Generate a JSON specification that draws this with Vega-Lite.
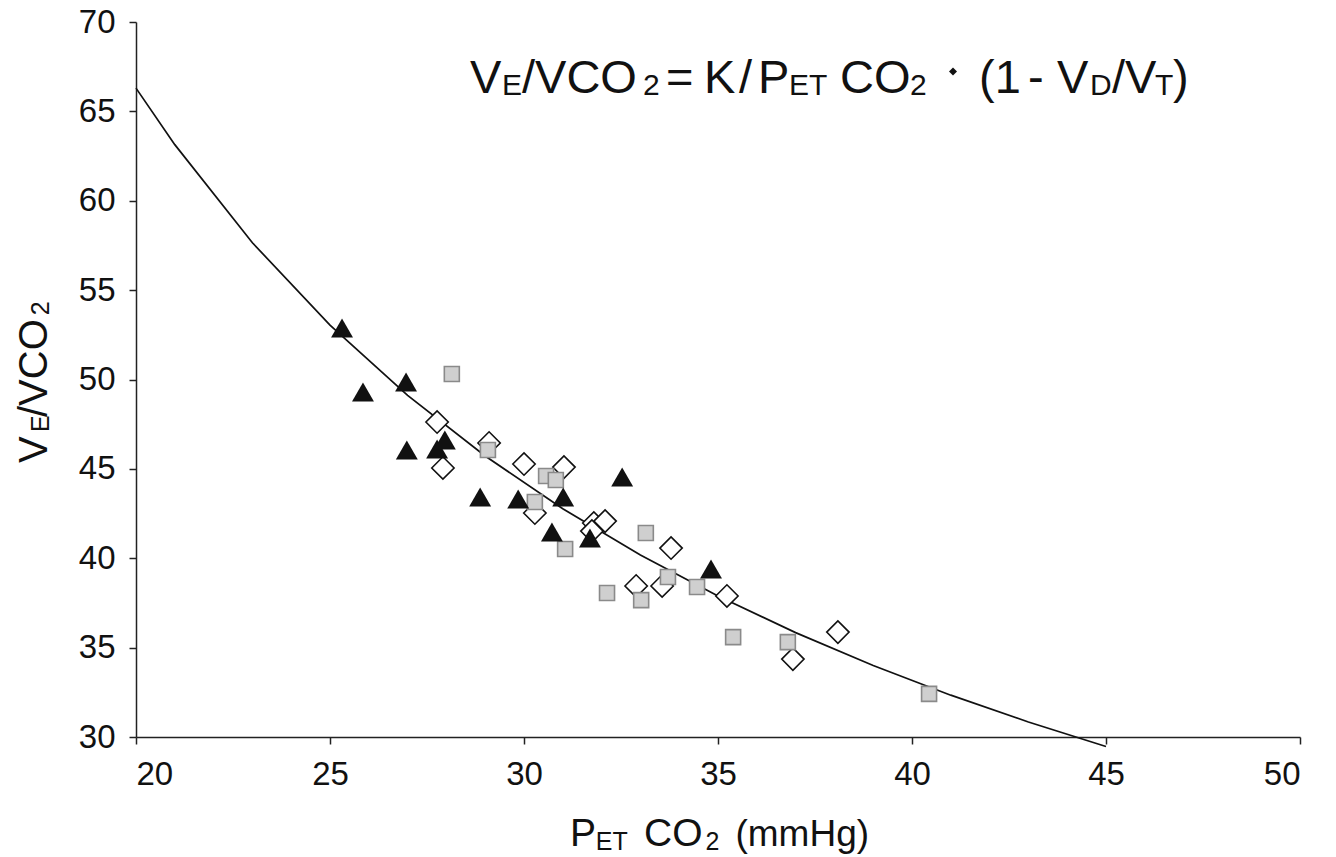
{
  "$schema": "https://vega.github.io/schema/vega-lite/v6.json",
  "width": 1164,
  "height": 715,
  "autosize": {"type": "none"},
  "padding": {"left": 136, "top": 22, "right": 36, "bottom": 120},
  "background": "white",
  "config": {
    "view": {"stroke": null},
    "axis": {
      "grid": false,
      "domainColor": "#222222",
      "domainWidth": 1.5,
      "tickColor": "#222222",
      "tickWidth": 1.5,
      "tickSize": 7,
      "labelFont": "Liberation Sans",
      "labelFontSize": 33,
      "labelColor": "#111111",
      "labelPadding": 14
    },
    "text": {"font": "Liberation Sans", "align": "left", "baseline": "alphabetic", "color": "#111111"}
  },
  "datasets": {
    "curve": [
      {"x": 20, "y": 66.3}, {"x": 21, "y": 63.14}, {"x": 23, "y": 57.65}, {"x": 25, "y": 53.04},
      {"x": 27, "y": 49.11}, {"x": 29, "y": 45.72}, {"x": 31, "y": 42.77}, {"x": 33, "y": 40.18},
      {"x": 35, "y": 37.89}, {"x": 37, "y": 35.84}, {"x": 39, "y": 34.0}, {"x": 41, "y": 32.34},
      {"x": 43, "y": 30.84}, {"x": 45, "y": 29.47}
    ],
    "pts": [
      {"g": "tri", "x": 25.31, "y": 52.88}, {"g": "tri", "x": 25.85, "y": 49.30}, {"g": "tri", "x": 26.96, "y": 49.86},
      {"g": "tri", "x": 26.98, "y": 46.06}, {"g": "tri", "x": 27.76, "y": 46.11}, {"g": "tri", "x": 27.96, "y": 46.62},
      {"g": "tri", "x": 28.87, "y": 43.43}, {"g": "tri", "x": 29.85, "y": 43.31}, {"g": "tri", "x": 31.01, "y": 43.43},
      {"g": "tri", "x": 30.72, "y": 41.47}, {"g": "tri", "x": 31.70, "y": 41.13}, {"g": "tri", "x": 32.53, "y": 44.55},
      {"g": "tri", "x": 34.82, "y": 39.40},
      {"g": "dia", "x": 27.76, "y": 47.62}, {"g": "dia", "x": 27.91, "y": 45.05}, {"g": "dia", "x": 29.10, "y": 46.45},
      {"g": "dia", "x": 30.00, "y": 45.27}, {"g": "dia", "x": 31.03, "y": 45.10}, {"g": "dia", "x": 30.28, "y": 42.53},
      {"g": "dia", "x": 31.80, "y": 41.97}, {"g": "dia", "x": 32.09, "y": 42.08}, {"g": "dia", "x": 31.75, "y": 41.52},
      {"g": "dia", "x": 32.89, "y": 38.45}, {"g": "dia", "x": 33.56, "y": 38.45}, {"g": "dia", "x": 33.79, "y": 40.57},
      {"g": "dia", "x": 35.23, "y": 37.89}, {"g": "dia", "x": 38.09, "y": 35.87}, {"g": "dia", "x": 36.93, "y": 34.36},
      {"g": "sq", "x": 28.14, "y": 50.31}, {"g": "sq", "x": 29.07, "y": 46.06}, {"g": "sq", "x": 30.57, "y": 44.60},
      {"g": "sq", "x": 30.82, "y": 44.38}, {"g": "sq", "x": 30.28, "y": 43.15}, {"g": "sq", "x": 31.06, "y": 40.52},
      {"g": "sq", "x": 32.14, "y": 38.06}, {"g": "sq", "x": 33.14, "y": 41.41}, {"g": "sq", "x": 33.02, "y": 37.66},
      {"g": "sq", "x": 33.71, "y": 38.95}, {"g": "sq", "x": 34.46, "y": 38.39}, {"g": "sq", "x": 35.39, "y": 35.59},
      {"g": "sq", "x": 36.80, "y": 35.31}, {"g": "sq", "x": 40.44, "y": 32.41}
    ]
  },
  "layer": [
    {
      "data": {"name": "curve"},
      "mark": {"type": "line", "color": "#111111", "strokeWidth": 1.7},
      "encoding": {
        "x": {"field": "x", "type": "quantitative", "scale": {"domain": [20, 50], "nice": false, "zero": false},
              "axis": {"values": [20, 25, 30, 35, 40, 45, 50], "title": null}},
        "y": {"field": "y", "type": "quantitative", "scale": {"domain": [30, 70], "nice": false, "zero": false},
              "axis": {"values": [30, 35, 40, 45, 50, 55, 60, 65, 70], "title": null}}
      }
    },
    {
      "data": {"name": "pts"},
      "transform": [{"filter": "datum.g === 'dia'"}],
      "mark": {"type": "point", "shape": "diamond", "fill": "white", "stroke": "#111111", "strokeWidth": 1.6, "size": 500, "opacity": 1},
      "encoding": {"x": {"field": "x", "type": "quantitative"}, "y": {"field": "y", "type": "quantitative"}}
    },
    {
      "data": {"name": "pts"},
      "transform": [{"filter": "datum.g === 'sq'"}],
      "mark": {"type": "point", "shape": "square", "fill": "#cfcfcf", "stroke": "#8a8a8a", "strokeWidth": 1.6, "size": 225, "opacity": 1},
      "encoding": {"x": {"field": "x", "type": "quantitative"}, "y": {"field": "y", "type": "quantitative"}}
    },
    {
      "data": {"name": "pts"},
      "transform": [{"filter": "datum.g === 'tri'"}],
      "mark": {"type": "point", "shape": "triangle-up", "filled": true, "color": "#111111", "size": 480, "opacity": 1},
      "encoding": {"x": {"field": "x", "type": "quantitative"}, "y": {"field": "y", "type": "quantitative"}}
    },
    {"data": {"values": [{}]}, "mark": {"type": "text", "text": "V", "fontSize": 47}, "encoding": {"x": {"datum": 28.608}, "y": {"datum": 66.028}}},
    {"data": {"values": [{}]}, "mark": {"type": "text", "text": "E", "fontSize": 30}, "encoding": {"x": {"datum": 29.433}, "y": {"datum": 65.916}}},
    {"data": {"values": [{}]}, "mark": {"type": "text", "text": "/VCO", "fontSize": 47}, "encoding": {"x": {"datum": 29.948}, "y": {"datum": 66.028}}},
    {"data": {"values": [{}]}, "mark": {"type": "text", "text": "2", "fontSize": 30}, "encoding": {"x": {"datum": 33.067}, "y": {"datum": 65.916}}},
    {"data": {"values": [{}]}, "mark": {"type": "text", "text": "=", "fontSize": 47}, "encoding": {"x": {"datum": 33.66}, "y": {"datum": 66.028}}},
    {"data": {"values": [{}]}, "mark": {"type": "text", "text": "K", "fontSize": 47}, "encoding": {"x": {"datum": 34.64}, "y": {"datum": 66.028}}},
    {"data": {"values": [{}]}, "mark": {"type": "text", "text": "/", "fontSize": 47}, "encoding": {"x": {"datum": 35.54}, "y": {"datum": 66.028}}},
    {"data": {"values": [{}]}, "mark": {"type": "text", "text": "P", "fontSize": 47}, "encoding": {"x": {"datum": 36.031}, "y": {"datum": 66.028}}},
    {"data": {"values": [{}]}, "mark": {"type": "text", "text": "ET", "fontSize": 30}, "encoding": {"x": {"datum": 36.830}, "y": {"datum": 65.916}}},
    {"data": {"values": [{}]}, "mark": {"type": "text", "text": "CO", "fontSize": 47}, "encoding": {"x": {"datum": 38.144}, "y": {"datum": 66.028}}},
    {"data": {"values": [{}]}, "mark": {"type": "text", "text": "2", "fontSize": 30}, "encoding": {"x": {"datum": 39.948}, "y": {"datum": 65.916}}},
    {"data": {"values": [{}]}, "mark": {"type": "point", "shape": "diamond", "filled": true, "color": "#111111", "size": 64, "opacity": 1},
     "encoding": {"x": {"datum": 41.057}, "y": {"datum": 67.23}}},
    {"data": {"values": [{}]}, "mark": {"type": "text", "text": "(1", "fontSize": 47}, "encoding": {"x": {"datum": 41.727}, "y": {"datum": 66.028}}},
    {"data": {"values": [{}]}, "mark": {"type": "text", "text": "-", "fontSize": 47}, "encoding": {"x": {"datum": 42.99}, "y": {"datum": 66.028}}},
    {"data": {"values": [{}]}, "mark": {"type": "text", "text": "V", "fontSize": 47}, "encoding": {"x": {"datum": 43.737}, "y": {"datum": 66.028}}},
    {"data": {"values": [{}]}, "mark": {"type": "text", "text": "D", "fontSize": 30}, "encoding": {"x": {"datum": 44.588}, "y": {"datum": 65.916}}},
    {"data": {"values": [{}]}, "mark": {"type": "text", "text": "/V", "fontSize": 47}, "encoding": {"x": {"datum": 45.155}, "y": {"datum": 66.028}}},
    {"data": {"values": [{}]}, "mark": {"type": "text", "text": "T", "fontSize": 30}, "encoding": {"x": {"datum": 46.263}, "y": {"datum": 65.916}}},
    {"data": {"values": [{}]}, "mark": {"type": "text", "text": ")", "fontSize": 47}, "encoding": {"x": {"datum": 46.727}, "y": {"datum": 66.028}}},
    {"data": {"values": [{}]}, "mark": {"type": "text", "text": "P", "fontSize": 39}, "encoding": {"x": {"datum": 31.186}, "y": {"datum": 23.902}}},
    {"data": {"values": [{}]}, "mark": {"type": "text", "text": "ET", "fontSize": 25}, "encoding": {"x": {"datum": 31.85}, "y": {"datum": 23.678}}},
    {"data": {"values": [{}]}, "mark": {"type": "text", "text": "CO", "fontSize": 39}, "encoding": {"x": {"datum": 33.093}, "y": {"datum": 23.902}}},
    {"data": {"values": [{}]}, "mark": {"type": "text", "text": "2", "fontSize": 25}, "encoding": {"x": {"datum": 34.68}, "y": {"datum": 23.678}}},
    {"data": {"values": [{}]}, "mark": {"type": "text", "text": "(mmHg)", "fontSize": 37}, "encoding": {"x": {"datum": 35.45}, "y": {"datum": 23.902}}},
    {"data": {"values": [{}]}, "mark": {"type": "text", "text": "V", "fontSize": 40, "angle": 270}, "encoding": {"x": {"datum": 17.706}, "y": {"datum": 45.329}}},
    {"data": {"values": [{}]}, "mark": {"type": "text", "text": "E", "fontSize": 25, "angle": 270}, "encoding": {"x": {"datum": 17.758}, "y": {"datum": 47.063}}},
    {"data": {"values": [{}]}, "mark": {"type": "text", "text": "/VCO", "fontSize": 40, "angle": 270}, "encoding": {"x": {"datum": 17.706}, "y": {"datum": 47.9}}},
    {"data": {"values": [{}]}, "mark": {"type": "text", "text": "2", "fontSize": 25, "angle": 270}, "encoding": {"x": {"datum": 17.758}, "y": {"datum": 53.6}}}
  ]
}
